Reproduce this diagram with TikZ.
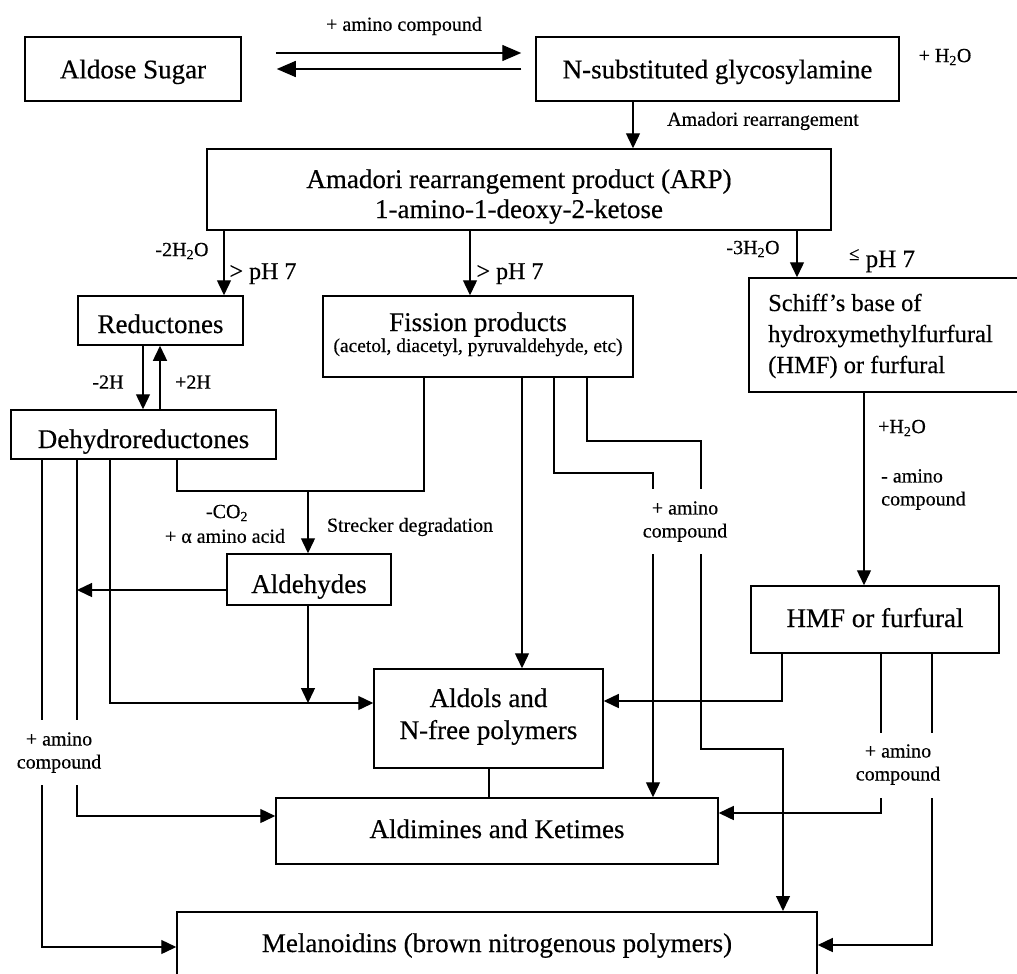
\documentclass[tikz,border=0pt]{standalone}
\usepackage{fontspec}
\setmainfont{Liberation Serif}[FakeBold=0.4]
\usetikzlibrary{arrows.meta}
\newcommand\mainf{\fontsize{27pt}{30pt}\selectfont}
\newcommand\schf{\fontsize{24.5pt}{31pt}\selectfont}
\newcommand\lblf{\fontsize{20pt}{23pt}\selectfont}
\newcommand\phf{\fontsize{24pt}{28pt}\selectfont}
\begin{document}
\begin{tikzpicture}[x=1pt,y=-1pt,
  box/.style={draw, line width=1.5pt, inner sep=0pt, font=\mainf, align=center, text depth=0pt},
  txt/.style={font=\mainf, inner sep=0pt, anchor=base},
  arr/.style={line width=1.4pt, -{Triangle[length=15pt,width=14pt]}},
  arrbig/.style={line width=1.4pt, -{Triangle[length=19pt,width=16pt]}},
  ln/.style={line width=1.4pt},
  lbl/.style={font=\lblf, inner sep=0pt, align=center}]
\useasboundingbox (0,0) rectangle (1017,974);

% columns and rows
\foreach \c in {42,77,110,143,160,177,224,308,424,470,489,522,554,587,633,653,701,782,783,797,864,881,932}
  {\coordinate (c\c) at (\c,0);}
\foreach \r in {441,473,489,491,554,590,701,703,720,733,749,785,798,813,816,945,947}
  {\coordinate (r\r) at (0,\r);}

% boxes
\node[box, minimum width=216pt, minimum height=64pt] (aldose) at (133,69) {Aldose Sugar};
\node[box, minimum width=363pt, minimum height=64pt] (nsub) at (717.5,69) {N-substituted glycosylamine};
\node[box, minimum width=624pt, minimum height=81pt] (arp) at (519,189.5) {};
\node[txt] (arp1) at (519,188) {Amadori rearrangement product (ARP)};
\node[txt] (arp2) at (519,218) {1-amino-1-deoxy-2-ketose};
\node[box, minimum width=165pt, minimum height=49pt, text height=25pt] (red) at (160.5,320.5) {Reductones};
\node[box, minimum width=310pt, minimum height=81pt] (fis) at (478,336.5) {};
\node[txt] (fis1) at (478,331) {Fission products};
\node[txt, font=\fontsize{19.5pt}{22pt}\selectfont] (fis2) at (478,352) {(acetol, diacetyl, pyruvaldehyde, etc)};
\node[box, minimum width=281pt, minimum height=114pt] (schiff) at (889.5,335) {};
\node[txt, font=\schf, anchor=base west] (sch1) at (768,311) {Schiff’s base of};
\node[txt, font=\schf, anchor=base west] (sch2) at (768,342) {hydroxymethylfurfural};
\node[txt, font=\schf, anchor=base west] (sch3) at (768,373) {(HMF) or furfural};
\node[box, minimum width=265pt, minimum height=49pt, text height=27pt] (dehy) at (143.5,434.5) {Dehydroreductones};
\node[box, minimum width=164pt, minimum height=51pt, text height=27pt] (ald) at (309,579.5) {Aldehydes};
\node[box, minimum width=248pt, minimum height=67pt, text height=15pt] (hmf) at (875,619.5) {HMF or furfural};
\node[box, minimum width=229pt, minimum height=99pt] (aldols) at (488.5,718.5) {};
\node[txt] (aldols1) at (488.5,707) {Aldols and};
\node[txt] (aldols2) at (488.5,739) {N-free polymers};
\node[box, minimum width=442pt, minimum height=66pt, text height=14pt] (aldim) at (497,831) {Aldimines and Ketimes};
\node[box, minimum width=640pt, minimum height=85pt, anchor=north] (mel) at (497,911) {};
\node[txt] (meltxt) at (497,952) {Melanoidins (brown nitrogenous polymers)};

% labels
\node[lbl] (l1) at (404,26) {+ amino compound};
\node[lbl] (l2) at (945,57) {+ H\textsubscript{2}O};
\node[lbl, anchor=west] (l3) at (667,121) {Amadori rearrangement};
\node[lbl] (l4) at (182,251) {-2H\textsubscript{2}O};
\node[lbl] (l5) at (753,249) {-3H\textsubscript{2}O};
\node[lbl, font=\phf, anchor=base] (l6) at (263,279) {> pH 7};
\node[lbl, font=\phf, anchor=base] (l7) at (510,279) {> pH 7};
\node[lbl, font=\fontsize{25pt}{28pt}\selectfont, anchor=base] (l8) at (882,267) {\raisebox{7pt}{\fontsize{19pt}{19pt}\selectfont ≤} pH 7};
\node[lbl] (l9) at (108,382) {-2H};
\node[lbl] (l10) at (193,382) {+2H};
\node[lbl] (l11) at (227,513) {-CO\textsubscript{2}};
\node[lbl] (l12) at (225,536) {+ α amino acid};
\node[lbl] (l13) at (410,527) {Strecker degradation};
\node[lbl] (l14) at (685,521.5) {+ amino\\compound};
\node[lbl] (l15) at (902,428) {+H\textsubscript{2}O};
\node[lbl, anchor=west, align=left] (l16) at (881,489.5) {- amino\\compound};
\node[lbl] (l17) at (59,752.5) {+ amino\\compound};
\node[lbl] (l18) at (898,764.5) {+ amino\\compound};

% connectors
\draw[arrbig] ([shift={(34,-16)}]aldose.east) -- ([shift={(-14,-16)}]nsub.west);
\draw[arrbig] ([shift={(-14,0)}]nsub.west) -- ([shift={(35,0)}]aldose.east);
\draw[arr] (nsub.south -| c633) -- (arp.north -| c633);
\draw[arr] (arp.south -| c224) -- (red.north -| c224);
\draw[arr] (arp.south -| c470) -- (fis.north -| c470);
\draw[arr] (arp.south -| c797) -- (schiff.north -| c797);
\draw[arr] (red.south -| c143) -- (dehy.north -| c143);
\draw[arr] (dehy.north -| c160) -- (red.south -| c160);
\draw[ln] (dehy.south -| c42) -- (c42 |- r720);
\draw[arr] (c42 |- r785) |- (mel.west |- r947);
\draw[ln] (dehy.south -| c77) -- (c77 |- r720);
\draw[arr] (c77 |- r785) |- (aldim.west |- r816);
\draw[arr] (ald.west |- r590) -- (c77 |- r590);
\draw[arr] (dehy.south -| c110) |- (aldols.west |- r703);
\draw[ln] (dehy.south -| c177) |- (c424 |- r491) -- (fis.south -| c424);
\draw[arr] (c308 |- r491) -- (ald.north -| c308);
\draw[arr] (ald.south -| c308) -- (c308 |- r703);
\draw[arr] (fis.south -| c522) -- (aldols.north -| c522);
\draw[ln] (fis.south -| c554) |- (c653 |- r473) -- (c653 |- r489);
\draw[arr] (c653 |- r554) -- (aldim.north -| c653);
\draw[ln] (fis.south -| c587) |- (c701 |- r441) -- (c701 |- r489);
\draw[arr] (c701 |- r554) |- (c783 |- r749) -- (mel.north -| c783);
\draw[arr] (schiff.south -| c864) -- (hmf.north -| c864);
\draw[arr] (hmf.south -| c782) |- (aldols.east |- r701);
\draw[ln] (hmf.south -| c881) -- (c881 |- r733);
\draw[arr] (c881 |- r798) |- (aldim.east |- r813);
\draw[ln] (hmf.south -| c932) -- (c932 |- r733);
\draw[arr] (c932 |- r798) |- (mel.east |- r945);
\draw[ln] (aldols.south -| c489) -- (aldim.north -| c489);
\end{tikzpicture}
\end{document}
